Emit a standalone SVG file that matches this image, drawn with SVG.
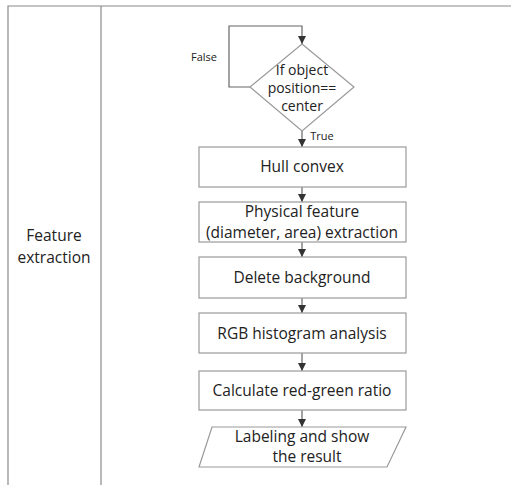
<svg xmlns="http://www.w3.org/2000/svg" width="511" height="485" viewBox="0 0 511 485">
<style>
.frame{fill:none;stroke:#8a8a8a;stroke-width:1.2}
.box{fill:#fff;stroke:#9a9a9a;stroke-width:1.2}
.con{fill:none;stroke:#666;stroke-width:1.2}
text{font-family:"Open Sans","Liberation Sans",sans-serif;font-size:15.5px;fill:#222;text-anchor:middle}
.sm{font-size:11px}
.dia{font-size:14px}
</style>
<defs>
<marker id="ah" viewBox="0 0 10 10" refX="10" refY="5" markerWidth="8" markerHeight="8" markerUnits="userSpaceOnUse" orient="auto">
<path d="M0,0 L10,5 L0,10 Z" fill="#333"/>
</marker>
</defs>
<g id="frame">
<path class="frame" d="M8,485 V6 H511"/>
<line class="frame" x1="101" y1="6" x2="101" y2="485"/>
</g>
<g id="lane-label">
<text x="54" y="241">Feature</text>
<text x="54" y="263">extraction</text>
</g>
<g id="connectors">
<path class="con" d="M250,87 H229 V26 H302 V44" marker-end="url(#ah)"/>
<line class="con" x1="302" y1="131" x2="302" y2="147" marker-end="url(#ah)"/>
<line class="con" x1="302" y1="187" x2="302" y2="202" marker-end="url(#ah)"/>
<line class="con" x1="302" y1="242" x2="302" y2="257" marker-end="url(#ah)"/>
<line class="con" x1="302" y1="298" x2="302" y2="313" marker-end="url(#ah)"/>
<line class="con" x1="302" y1="353" x2="302" y2="371" marker-end="url(#ah)"/>
<line class="con" x1="302" y1="410" x2="302" y2="427" marker-end="url(#ah)"/>
<text class="sm" x="204" y="61">False</text>
<text class="sm" x="322" y="140">True</text>
</g>
<g id="decision">
<polygon class="box" points="302,44 354,87 302,131 250,87"/>
<text class="dia" x="302" y="75">If object</text>
<text class="dia" x="302" y="93">position==</text>
<text class="dia" x="302" y="111">center</text>
</g>
<g id="hull">
<rect class="box" x="199" y="147" width="207" height="40"/>
<text x="302" y="172">Hull convex</text>
</g>
<g id="physical">
<rect class="box" x="199" y="202" width="207" height="40"/>
<text x="302" y="217">Physical feature</text>
<text x="302" y="238">(diameter, area) extraction</text>
</g>
<g id="delete">
<rect class="box" x="199" y="257" width="207" height="41"/>
<text x="302" y="283">Delete background</text>
</g>
<g id="rgb">
<rect class="box" x="199" y="313" width="207" height="40"/>
<text x="302" y="339">RGB histogram analysis</text>
</g>
<g id="ratio">
<rect class="box" x="199" y="371" width="207" height="39"/>
<text x="302" y="396">Calculate red-green ratio</text>
</g>
<g id="labeling">
<polygon class="box" points="212,427 406,427 387,467 199,467"/>
<text x="302" y="442">Labeling and show</text>
<text x="307" y="462">the result</text>
</g>
</svg>
